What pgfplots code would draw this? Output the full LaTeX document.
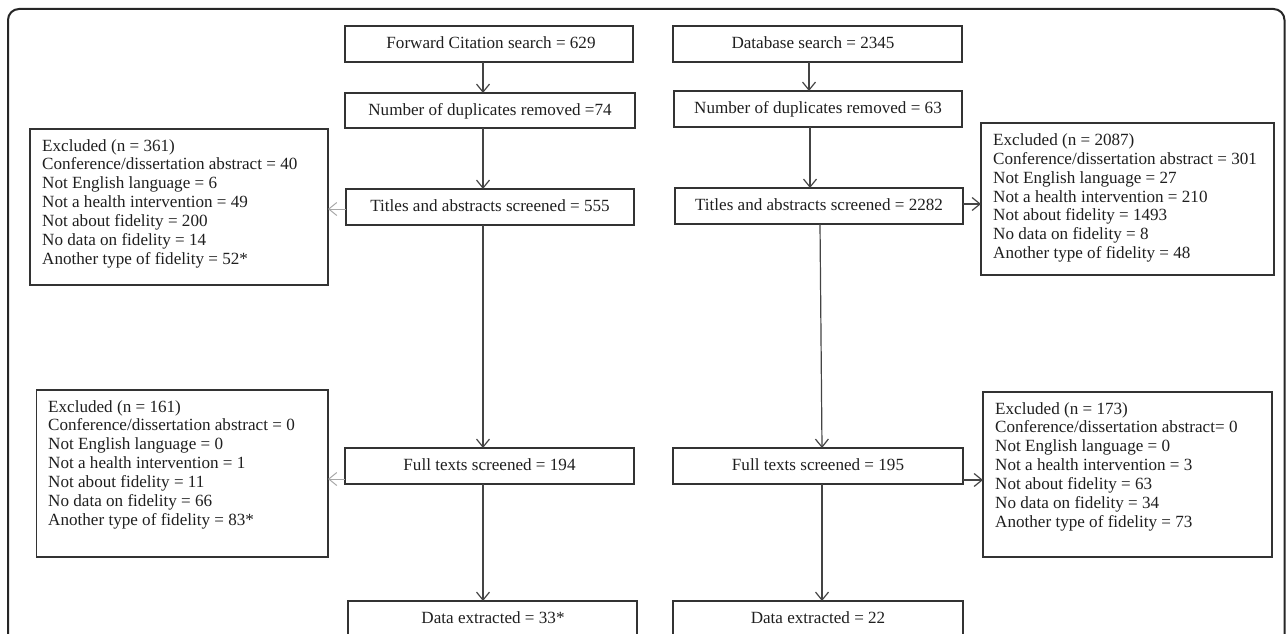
\documentclass[border=0pt]{standalone}
\usepackage{pgfplots}
\pgfplotsset{compat=1.18}
\usetikzlibrary{arrows.meta}
\usepackage{fontspec}
\setmainfont{Liberation Serif}

\definecolor{boxc}{HTML}{333333}
\definecolor{arrc}{HTML}{444444}
\definecolor{lightarr}{HTML}{A8A8A8}

\newcommand{\fs}{\fontsize{17.1}{18.85}\selectfont}

\tikzset{
    box/.style={draw=boxc, line width=1.3pt, line join=miter},
    arr/.style={draw=arrc, line width=1.2pt, -{Straight Barb[length=8pt,width=13pt]}},
    larr/.style={draw=lightarr, line width=1pt, -{Straight Barb[length=8pt,width=13pt]}},
    txt/.style={anchor=base, inner sep=0pt, font=\fs, text=black!88},
    ltxt/.style={anchor=base west, inner sep=0pt, font=\fs, text=black!88},
}

\begin{document}
\begin{tikzpicture}
\begin{axis}[
    scale only axis,
    width=1287pt, height=634pt,
    xmin=0, xmax=1287, ymin=0, ymax=634,
    y dir=reverse,
    axis lines=none,
    clip=true,
]

% outer frame (its bottom lies below the picture)
\addplot[draw=black!85, line width=2pt, rounded corners=11pt]
    coordinates {(8,634) (8,9) (1284.5,9) (1284.5,634)};

% boxes
\addplot[box] coordinates {(345,26) (633,26) (633,62) (345,62)} -- cycle;
\addplot[box] coordinates {(673,26) (962,26) (962,62) (673,62)} -- cycle;
\addplot[box] coordinates {(345,93) (635,93) (635,128) (345,128)} -- cycle;
\addplot[box] coordinates {(674,91) (962,91) (962,127) (674,127)} -- cycle;
\addplot[box] coordinates {(346,189) (634,189) (634,225) (346,225)} -- cycle;
\addplot[box] coordinates {(675,188) (963,188) (963,224) (675,224)} -- cycle;
\addplot[box] coordinates {(345,448) (634,448) (634,484) (345,484)} -- cycle;
\addplot[box] coordinates {(673,448) (963,448) (963,484) (673,484)} -- cycle;
\addplot[box] coordinates {(637,634) (637,601) (348,601) (348,634)};
\addplot[box] coordinates {(963,634) (963,601) (673,601) (673,634)};
\addplot[box] coordinates {(30,129) (328,129) (328,285) (30,285)} -- cycle;
\addplot[box] coordinates {(981,123) (1274,123) (1274,275) (981,275)} -- cycle;
\addplot[box] coordinates {(36.5,390) (328,390) (328,557) (36.5,557)} -- cycle;
\addplot[box] coordinates {(983,392) (1272,392) (1272,557) (983,557)} -- cycle;

% arrows
\addplot[arr] coordinates {(483,62) (483,93)};
\addplot[arr] coordinates {(809,62) (809,91)};
\addplot[arr] coordinates {(483,128) (483,189)};
\addplot[arr] coordinates {(810,127) (810,188)};
\addplot[arr] coordinates {(483,225) (483,448)};
\addplot[arr] coordinates {(820,224) (822,448)};
\addplot[arr] coordinates {(483,484) (483,601)};
\addplot[arr] coordinates {(822,484) (822,601)};
\addplot[larr] coordinates {(346,209) (328,209)};
\addplot[arr] coordinates {(963,204) (981,204)};
\addplot[larr] coordinates {(345,479) (328,479)};
\addplot[arr] coordinates {(963,480) (983,480)};

% single-line boxes
\node[txt] at (axis cs:491,48.7) {Forward Citation search = 629};
\node[txt] at (axis cs:813,48.5) {Database search = 2345};
\node[txt] at (axis cs:490,115.5) {Number of duplicates removed =74};
\node[txt] at (axis cs:818,113.5) {Number of duplicates removed = 63};
\node[txt] at (axis cs:490,211.5) {Titles and abstracts screened = 555};
\node[txt] at (axis cs:819,210.5) {Titles and abstracts screened = 2282};
\node[txt] at (axis cs:489.5,470.5) {Full texts screened = 194};
\node[txt] at (axis cs:818,470.5) {Full texts screened = 195};
\node[txt] at (axis cs:493,623.5) {Data extracted = 33*};
\node[txt] at (axis cs:818,623.5) {Data extracted = 22};

% excluded, forward citation, titles
\node[ltxt] at (axis cs:42,151) {Excluded (n = 361)};
\node[ltxt] at (axis cs:42,169.85) {Conference/dissertation abstract = 40};
\node[ltxt] at (axis cs:42,188.7) {Not English language = 6};
\node[ltxt] at (axis cs:42,207.55) {Not a health intervention = 49};
\node[ltxt] at (axis cs:42,226.4) {Not about fidelity = 200};
\node[ltxt] at (axis cs:42,245.25) {No data on fidelity = 14};
\node[ltxt] at (axis cs:42,264.1) {Another type of fidelity = 52*};

% excluded, database, titles
\node[ltxt] at (axis cs:993,145.5) {Excluded (n = 2087)};
\node[ltxt] at (axis cs:993,164.35) {Conference/dissertation abstract = 301};
\node[ltxt] at (axis cs:993,183.2) {Not English language = 27};
\node[ltxt] at (axis cs:993,202.05) {Not a health intervention = 210};
\node[ltxt] at (axis cs:993,220.9) {Not about fidelity = 1493};
\node[ltxt] at (axis cs:993,239.75) {No data on fidelity = 8};
\node[ltxt] at (axis cs:993,258.6) {Another type of fidelity = 48};

% excluded, forward citation, full texts
\node[ltxt] at (axis cs:48,412) {Excluded (n = 161)};
\node[ltxt] at (axis cs:48,430.85) {Conference/dissertation abstract = 0};
\node[ltxt] at (axis cs:48,449.7) {Not English language = 0};
\node[ltxt] at (axis cs:48,468.55) {Not a health intervention = 1};
\node[ltxt] at (axis cs:48,487.4) {Not about fidelity = 11};
\node[ltxt] at (axis cs:48,506.25) {No data on fidelity = 66};
\node[ltxt] at (axis cs:48,525.1) {Another type of fidelity = 83*};

% excluded, database, full texts
\node[ltxt] at (axis cs:995,414) {Excluded (n = 173)};
\node[ltxt] at (axis cs:995,432.85) {Conference/dissertation abstract= 0};
\node[ltxt] at (axis cs:995,451.7) {Not English language = 0};
\node[ltxt] at (axis cs:995,470.55) {Not a health intervention = 3};
\node[ltxt] at (axis cs:995,489.4) {Not about fidelity = 63};
\node[ltxt] at (axis cs:995,508.25) {No data on fidelity = 34};
\node[ltxt] at (axis cs:995,527.1) {Another type of fidelity = 73};

\end{axis}
% keep the whole axis area as the page
\path (current axis.south west) rectangle (current axis.north east);
\end{tikzpicture}
\end{document}
